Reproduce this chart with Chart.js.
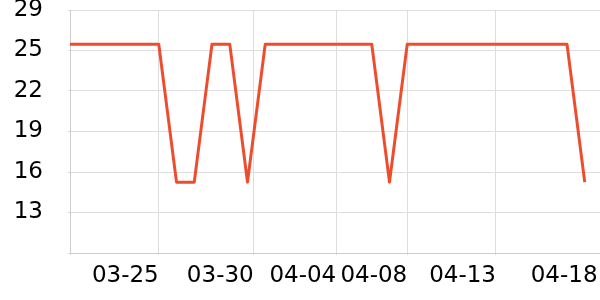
<!DOCTYPE html>
<html><head><meta charset="utf-8">
<script src="https://cdn.jsdelivr.net/npm/chart.js@4"></script>
<style>html,body{margin:0;padding:0;background:#fff}#wrap{width:600px;height:300px;position:relative}</style>
</head><body><div id="wrap"><canvas id="c"></canvas></div>
<script>
const dates = ['03-20','03-21','03-22','03-23','03-24','03-25','03-26','03-27','03-28','03-29',
  '03-30','03-31','04-01','04-02','04-03','04-04','04-05','04-06','04-07','04-08',
  '04-09','04-10','04-11','04-12','04-13','04-14','04-15','04-16','04-17','04-18'];
const values = [26.3,26.3,26.3,26.3,26.3,26.3,15.4,15.4,26.3,26.3,
  15.4,26.3,26.3,26.3,26.3,26.3,26.3,26.3,15.4,26.3,
  26.3,26.3,26.3,26.3,26.3,26.3,26.3,26.3,26.3,15.4];
const xTickValues = [0,5,10.35,15,19,24,29.72];
const xTickLabels = ['','03-25','03-30','04-04','04-08','04-13','04-18'];
const yTickValues = [9.8,13,16.2,19.4,22.6,25.8,29];
const yTickLabels = ['','13','16','19','22','25','29'];

const FONT = {family:'"DejaVu Sans"', size:23, lineHeight:1.2};
new Chart(document.getElementById('c'), {
  type:'line',
  data:{datasets:[{
    data: values.map((v,i)=>({x:i, y:v, d:dates[i]})),
    borderColor:'#ee4d2d', borderWidth:3, pointRadius:0, tension:0, fill:false,
    borderJoinStyle:'round', borderCapStyle:'butt'
  }]},
  options:{
    responsive:true, maintainAspectRatio:false, animation:false, devicePixelRatio:1,
    layout:{padding:{top:10,right:0,left:0,bottom:0}},
    plugins:{legend:{display:false}, tooltip:{enabled:false}},
    scales:{
      x:{type:'linear', min:0, max:29.86,
        afterBuildTicks:s=>{s.ticks = xTickValues.map(v=>({value:v}));},
        afterFit:s=>{s.height=47; s.paddingLeft=0; s.paddingRight=0;},
        ticks:{autoSkip:false, maxRotation:0, align:'end', padding:7, color:'#000', font:FONT,
          callback:(v,i)=>xTickLabels[i]},
        grid:{color:c=>c.index===xTickValues.length-1?'rgba(0,0,0,0)':'#dddddd', tickLength:2, lineWidth:1},
        border:{color:'#cccccc'}
      },
      y:{min:9.8, max:29,
        afterBuildTicks:s=>{s.ticks = yTickValues.map(v=>({value:v}));},
        afterFit:s=>{s.width=70; s.paddingTop=0; s.paddingBottom=0;},
        ticks:{padding:25, color:'#000', font:FONT, callback:(v,i)=>yTickLabels[i]},
        grid:{color:'#dddddd', tickLength:2, lineWidth:1},
        border:{color:'#cccccc'}
      }
    }
  }
});
</script></body></html>
